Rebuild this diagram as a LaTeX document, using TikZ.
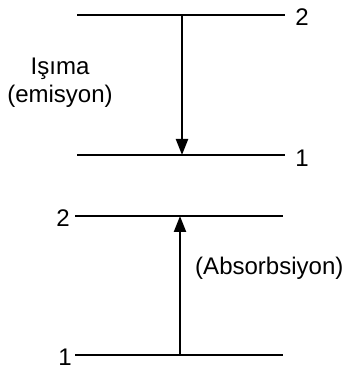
\documentclass[tikz,border=0pt]{standalone}
\usepackage{fontspec}
\setmainfont{Liberation Sans}
\usetikzlibrary{arrows.meta}

\begin{document}
\begin{tikzpicture}[x=0.03cm, y=0.03cm,
  lvl/.style={line width=0.065cm},
  trans/.style={line width=0.065cm, -{Triangle[length=0.48cm, width=0.36cm]}},
  txt/.style={font=\fontsize{20.5}{24}\selectfont, inner sep=0pt, align=center}
]
\useasboundingbox (0,0) rectangle (343,370);

% Emission
\coordinate (e2l) at (77,355);
\coordinate (e2r) at (285,355);
\coordinate (e1l) at (77,215);
\coordinate (e1r) at (285,215);
\coordinate (etop) at (182,355);
\coordinate (ebot) at (182,215);
\draw[lvl] (e2l) -- (e2r);
\draw[lvl] (e1l) -- (e1r);
\draw[trans] (etop) -- (ebot);
\node[txt] (e2) at (302,353) {2};
\node[txt] (e1) at (302,212) {1};
\node[txt] (emis) at (60,287) {Işıma\\(emisyon)};

% Absorption
\coordinate (a2l) at (75,154);
\coordinate (a2r) at (283,154);
\coordinate (a1l) at (75,15);
\coordinate (a1r) at (283,15);
\coordinate (abot) at (180,15);
\coordinate (atop) at (180,154);
\draw[lvl] (a2l) -- (a2r);
\draw[lvl] (a1l) -- (a1r);
\draw[trans] (abot) -- (atop);
\node[txt] (a2) at (63,152) {2};
\node[txt] (a1) at (65,13) {1};
\node[txt, anchor=west] (abs) at (195,102) {(Absorbsiyon)};
\end{tikzpicture}
\end{document}
